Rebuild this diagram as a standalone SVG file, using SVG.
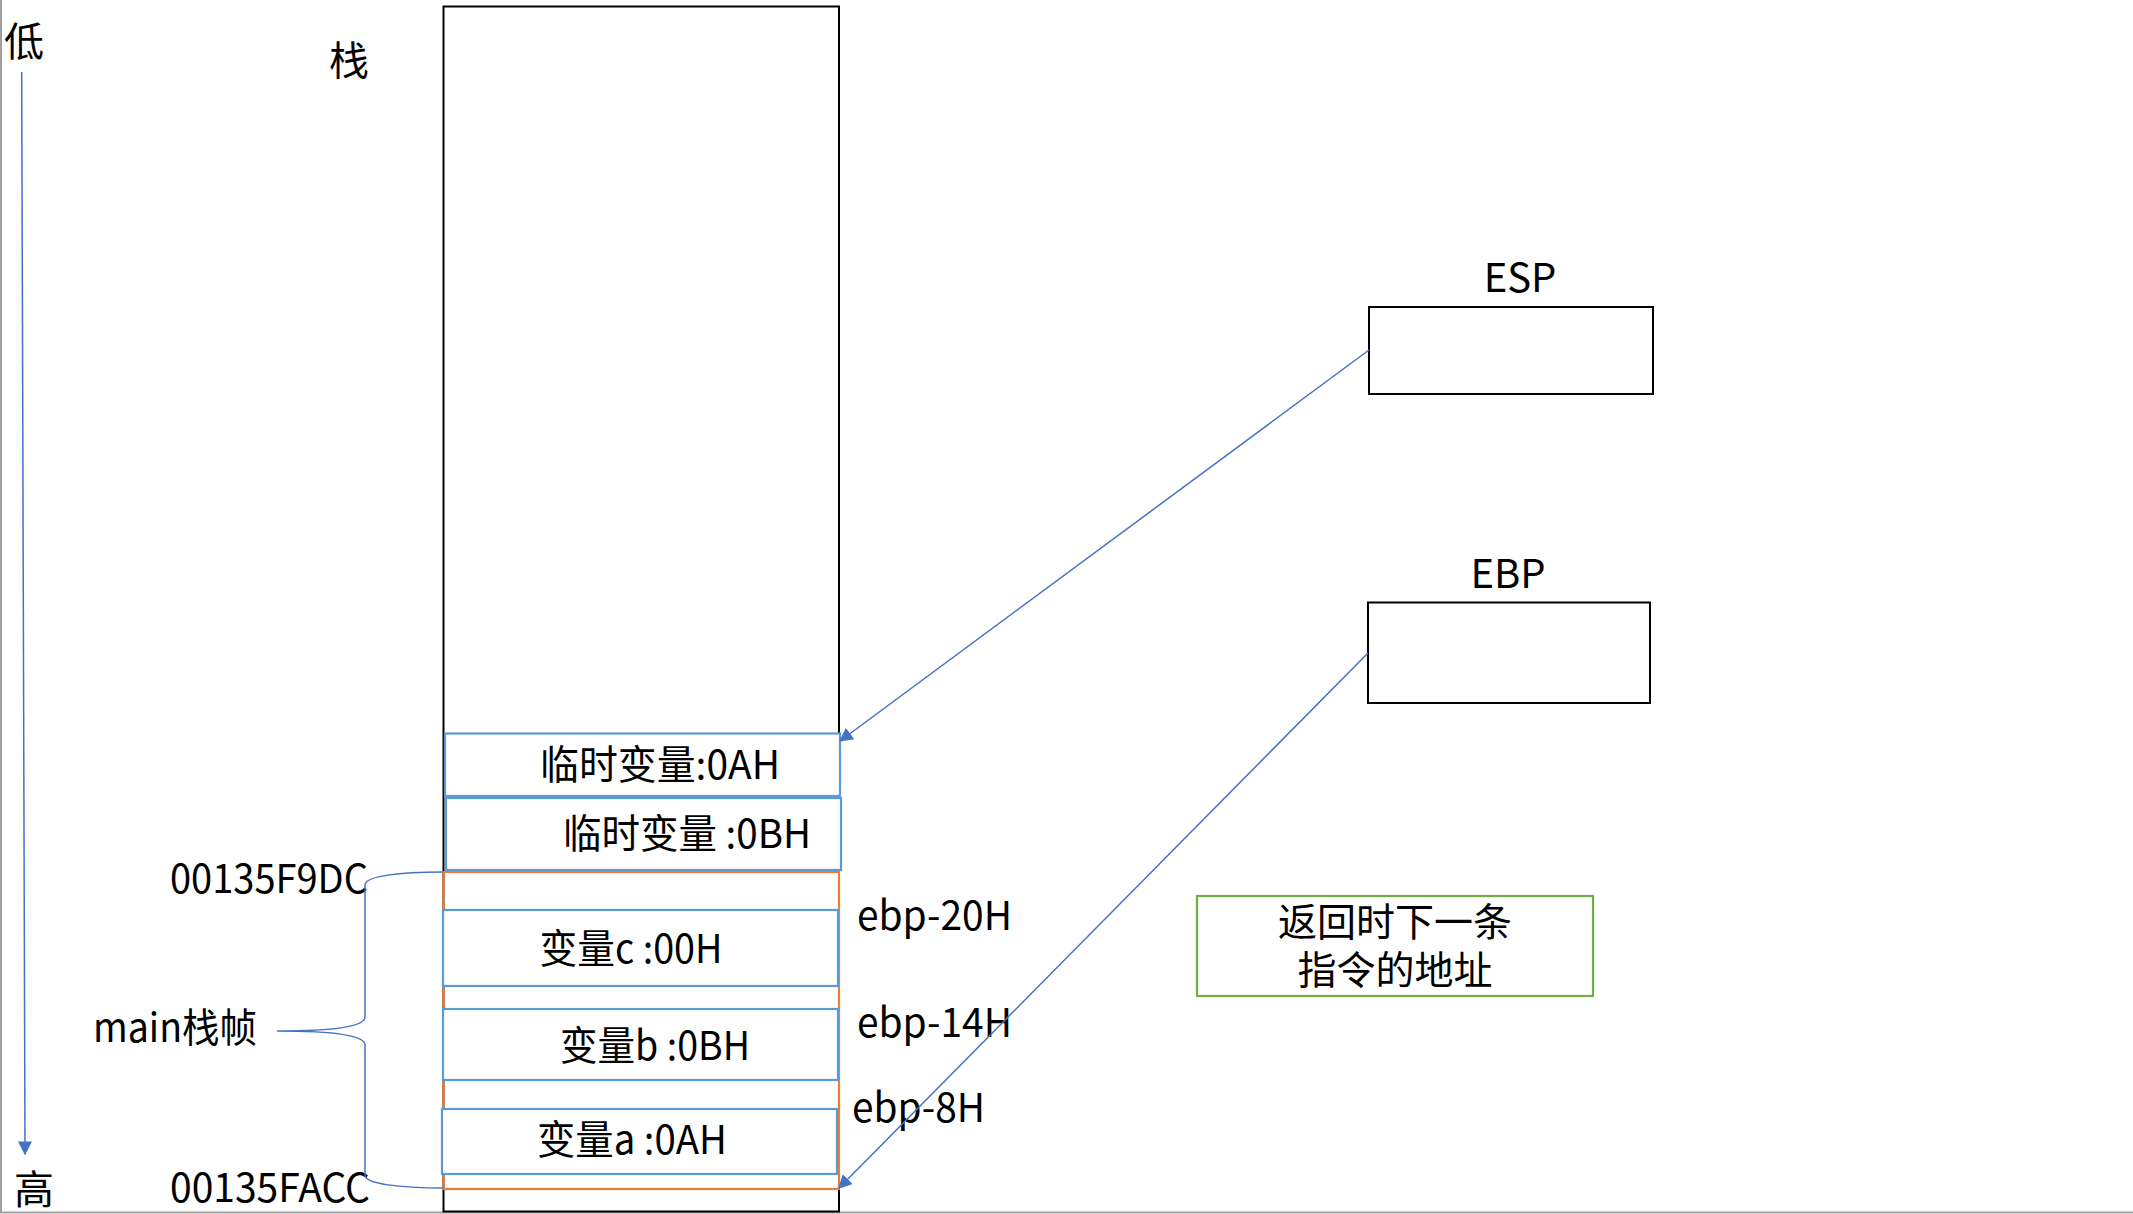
<svg xmlns="http://www.w3.org/2000/svg" width="2133" height="1214" viewBox="0 0 2133 1214">
<style>
  text { font-family: "Noto Sans CJK SC", "Liberation Sans", sans-serif; font-size: 40px; fill: #000; }
  .mid { text-anchor: middle; }
  .end { text-anchor: end; }
  .blk { fill: #fff; stroke: #000; stroke-width: 2; }
  .cell { fill: #fff; stroke: #5B9BD5; stroke-width: 2.2; }
  .frame { fill: none; stroke: #ED7D31; stroke-width: 2.2; }
  .conn { fill: none; stroke: #4472C4; stroke-width: 1.5; }
  .note { font-size: 39px; }
</style>
<defs>
  <marker id="arrBig" viewBox="0 0 10 10" refX="9" refY="5" markerWidth="14" markerHeight="14" markerUnits="userSpaceOnUse" orient="auto">
    <path d="M0,0 L10,5 L0,10 z" fill="#4472C4"/>
  </marker>
</defs>
<rect x="0" y="0" width="2133" height="1214" fill="#fff"/>
<line x1="1" y1="0" x2="1" y2="1213" stroke="#a0a0a0" stroke-width="2"/>
<line x1="0" y1="1212.5" x2="2133" y2="1212.5" stroke="#a0a0a0" stroke-width="2"/>

<g id="axis">
  <text x="4" y="56">低</text>
  <text x="14" y="1204">高</text>
</g>
<g id="stack-title"><text x="329" y="75">栈</text></g>

<g id="stack"><rect class="blk" x="443.5" y="6.5" width="395.5" height="1205"/></g>
<g id="main-frame"><rect class="frame" x="443.5" y="872" width="395.5" height="317"/></g>

<g id="tmp-a"><rect class="cell" x="445" y="733.5" width="395" height="62.5"/><text class="mid" x="660" y="779" textLength="240" lengthAdjust="spacingAndGlyphs">临时变量:0AH</text></g>
<g id="tmp-b"><rect class="cell" x="446" y="798" width="395" height="72"/><text class="mid" x="687" y="848" textLength="248" lengthAdjust="spacingAndGlyphs">临时变量 :0BH</text></g>
<g id="var-c"><rect class="cell" x="443" y="910" width="395" height="76"/><text class="mid" x="631" y="963" textLength="183" lengthAdjust="spacingAndGlyphs">变量c :00H</text></g>
<g id="var-b"><rect class="cell" x="443" y="1009" width="395" height="71"/><text class="mid" x="655" y="1060" textLength="190" lengthAdjust="spacingAndGlyphs">变量b :0BH</text></g>
<g id="var-a"><rect class="cell" x="442" y="1109" width="395" height="65"/><text class="mid" x="632" y="1154" textLength="190" lengthAdjust="spacingAndGlyphs">变量a :0AH</text></g>

<g id="labels">
  <text x="170" y="893" textLength="198" lengthAdjust="spacingAndGlyphs">00135F9DC</text>
  <text x="93" y="1042" textLength="164" lengthAdjust="spacingAndGlyphs">main栈帧</text>
  <text x="170" y="1202" textLength="200" lengthAdjust="spacingAndGlyphs">00135FACC</text>
  <text x="857" y="930" textLength="155" lengthAdjust="spacingAndGlyphs">ebp-20H</text>
  <text x="857" y="1037" textLength="155" lengthAdjust="spacingAndGlyphs">ebp-14H</text>
  <text x="852" y="1122" textLength="133" lengthAdjust="spacingAndGlyphs">ebp-8H</text>
</g>

<g id="esp"><text class="mid" x="1520" y="292">ESP</text><rect class="blk" x="1369" y="307" width="284" height="87"/></g>
<g id="ebp"><text class="mid" x="1508" y="588">EBP</text><rect class="blk" x="1368" y="602.5" width="282" height="100.5"/></g>
<g id="ret"><rect x="1197" y="896" width="396" height="100" fill="#fff" stroke="#70AD47" stroke-width="2.2"/><text class="mid note" x="1395" y="936">返回时下一条</text><text class="mid note" x="1395" y="984">指令的地址</text></g>

<g id="connectors">
  <line class="conn" x1="21.7" y1="72" x2="25" y2="1154" marker-end="url(#arrBig)"/>
  <line class="conn" x1="1369" y1="350" x2="840" y2="741" marker-end="url(#arrBig)"/>
  <line class="conn" x1="1368" y1="653" x2="839" y2="1188" marker-end="url(#arrBig)"/>
  <path class="conn" d="M443,872 C400,872 365,876 365,885 L365,1017 C365,1027 330,1031 277,1031 C330,1031 365,1035 365,1045 L365,1175 C365,1184 400,1188 443,1188"/>
</g>
</svg>
